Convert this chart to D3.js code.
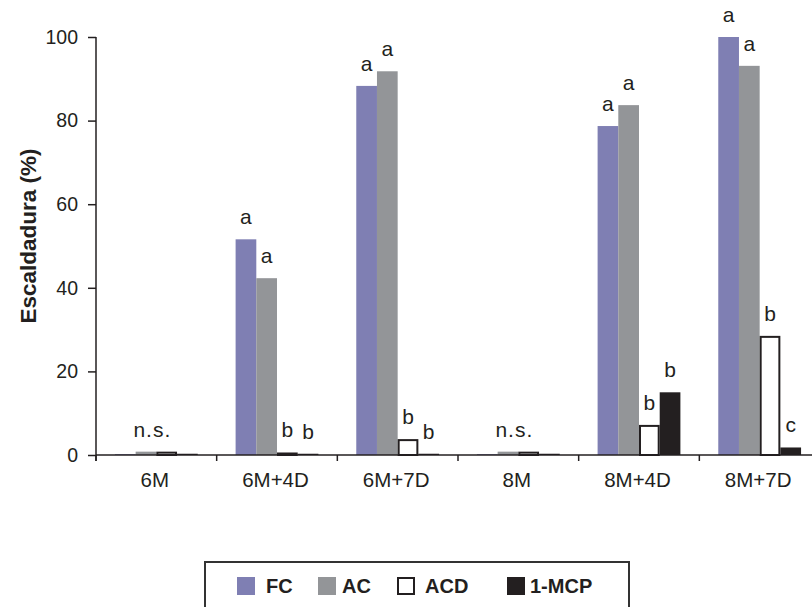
<!DOCTYPE html>
<html>
<head>
<meta charset="utf-8">
<script src="https://cdn.jsdelivr.net/npm/d3@7"></script>
<style>
  html, body { margin: 0; padding: 0; background: #fff; }
  svg { display: block; font-family: "Liberation Sans", Arial, sans-serif; }
</style>
</head>
<body>
<svg id="chart" width="812" height="607"></svg>
<script>
// ---- data ----
const categories = ["6M", "6M+4D", "6M+7D", "8M", "8M+4D", "8M+7D"];
const seriesNames = ["FC", "AC", "ACD", "1-MCP"];
const valuesFC  = [0.2, 51.6, 88.3, 0.2, 78.7, 100];
const valuesAC  = [0.8, 42.3, 91.8, 0.8, 83.7, 93.1];
const valuesACD = [0.8, 0.6, 3.8, 0.8, 7.2, 28.5];
const valuesMCP = [0.3, 0.3, 0.3, 0.3, 15.0, 1.8];
const lettersFC  = ["", "a", "a", "", "a", "a"];
const lettersAC  = ["", "a", "a", "", "a", "a"];
const lettersACD = ["", "b", "b", "", "b", "b"];
const lettersMCP = ["", "b", "b", "", "b", "c"];
const groupNotes = ["n.s.", "", "", "n.s.", "", ""];
const yTicks = [0, 20, 40, 60, 80, 100];
const yLabel = "Escaldadura (%)";

// ---- styles ----
const ink = "#231f20";
const fills = { "FC": "#7f7fb3", "AC": "#939598", "ACD": "#ffffff", "1-MCP": "#231f20" };
const strokes = { "FC": "none", "AC": "none", "ACD": ink, "1-MCP": "none" };

const seriesValues = { "FC": valuesFC, "AC": valuesAC, "ACD": valuesACD, "1-MCP": valuesMCP };
const seriesLetters = { "FC": lettersFC, "AC": lettersAC, "ACD": lettersACD, "1-MCP": lettersMCP };

const svg = d3.select("#chart");
const x0 = 96, xEnd = 820, yTop = 37, yBase = 455;

const x = d3.scaleBand().domain(categories).range([x0, xEnd]).paddingInner(0).paddingOuter(0);
const xs = d3.scaleBand().domain(seriesNames).range([0, x.bandwidth()]).paddingInner(0).paddingOuter(0.915);
const y = d3.scaleLinear().domain([0, 100]).range([yBase, yTop]);

// bars
const rows = [];
seriesNames.forEach(s => {
  categories.forEach((c, i) => {
    rows.push({ s, c, v: seriesValues[s][i], letter: seriesLetters[s][i] });
  });
});

const barG = svg.append("g");
barG.selectAll("rect").data(rows).enter().append("rect")
  .attr("x", d => x(d.c) + xs(d.s) + (d.s === "ACD" ? 1 : 0))
  .attr("width", d => xs.bandwidth() - (d.s === "ACD" ? 2 : 0))
  .attr("y", d => y(d.v) + (d.s === "ACD" ? 1 : 0))
  .attr("height", d => Math.max(0, yBase - y(d.v) - (d.s === "ACD" ? 1 : 0)))
  .attr("fill", d => fills[d.s])
  .attr("stroke", d => strokes[d.s])
  .attr("stroke-width", 2);

// letters
svg.append("g").selectAll("text").data(rows.filter(d => d.letter)).enter().append("text")
  .attr("x", d => x(d.c) + xs(d.s) + xs.bandwidth() / 2)
  .attr("y", d => y(d.v) - 15)
  .attr("text-anchor", "middle")
  .attr("font-size", 21)
  .attr("fill", ink)
  .text(d => d.letter);

// group notes
svg.append("g").selectAll("text").data(categories.map((c, i) => ({ c, note: groupNotes[i], i })).filter(d => d.note))
  .enter().append("text")
  .attr("x", d => x(d.c) + x.bandwidth() / 2 - 4)
  .attr("y", d => y(d3.max(seriesNames, s => seriesValues[s][d.i])) - 15)
  .attr("text-anchor", "middle")
  .attr("font-size", 21)
  .attr("letter-spacing", 1)
  .attr("fill", ink)
  .text(d => d.note);

// y axis
const yAxis = d3.axisLeft(y).tickValues(yTicks).tickSize(8).tickPadding(10).tickFormat(d3.format("d"));
const yg = svg.append("g").attr("transform", `translate(${x0},0)`).call(yAxis);
yg.select(".domain").attr("d", `M0,${yTop}V${yBase + 6}`).attr("stroke", ink).attr("stroke-width", 1.5);
yg.selectAll(".tick line").attr("stroke", ink).attr("stroke-width", 1.5);
yg.selectAll(".tick text").attr("font-size", 19.5).attr("fill", ink).attr("font-family", "Liberation Sans, Arial, sans-serif");

// x axis
const xg = svg.append("g");
xg.append("line").attr("x1", x0).attr("x2", 812).attr("y1", yBase).attr("y2", yBase)
  .attr("stroke", ink).attr("stroke-width", 1.5);
const bounds = categories.map(c => x(c)).concat([xEnd]);
xg.selectAll(".xt").data(bounds).enter().append("line")
  .attr("x1", d => d).attr("x2", d => d).attr("y1", yBase).attr("y2", yBase + 6)
  .attr("stroke", ink).attr("stroke-width", 1.5);
xg.selectAll(".xl").data(categories).enter().append("text")
  .attr("x", d => x(d) + x.bandwidth() / 2 - 1.5)
  .attr("y", 487)
  .attr("text-anchor", "middle")
  .attr("font-size", 20.5)
  .attr("fill", ink)
  .text(d => d);

// y label
svg.append("text")
  .attr("transform", "translate(36,236) rotate(-90)")
  .attr("text-anchor", "middle")
  .attr("font-size", 22.5)
  .attr("font-weight", "bold")
  .attr("fill", ink)
  .text(yLabel);

// legend
const lg = svg.append("g");
lg.append("rect").attr("x", 205).attr("y", 562).attr("width", 424).attr("height", 60)
  .attr("fill", "none").attr("stroke", "#333").attr("stroke-width", 2);
const legendLayout = [
  { s: "FC", sx: 237, tx: 266 },
  { s: "AC", sx: 318, tx: 342 },
  { s: "ACD", sx: 397, tx: 425 },
  { s: "1-MCP", sx: 507, tx: 530 }
];
legendLayout.forEach(l => {
  const isACD = l.s === "ACD";
  lg.append("rect")
    .attr("x", l.sx + (isACD ? 1 : 0)).attr("y", 577 + (isACD ? 1 : 0))
    .attr("width", 18 - (isACD ? 2 : 0)).attr("height", 18 - (isACD ? 2 : 0))
    .attr("fill", fills[l.s]).attr("stroke", strokes[l.s]).attr("stroke-width", 2);
  lg.append("text").attr("x", l.tx).attr("y", 593)
    .attr("font-size", 20).attr("font-weight", "bold").attr("fill", ink)
    .text(l.s);
});
</script>
</body>
</html>
